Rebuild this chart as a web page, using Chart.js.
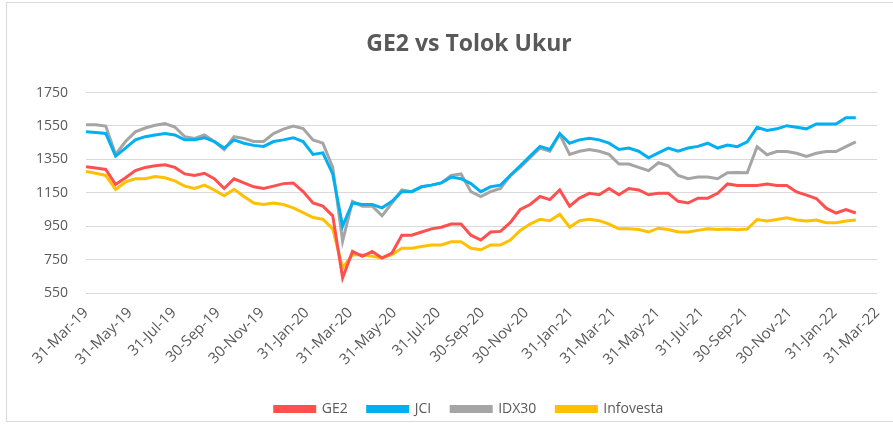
<!DOCTYPE html>
<html>
<head>
<meta charset="utf-8">
<script src="https://cdn.jsdelivr.net/npm/chart.js@4/dist/chart.umd.min.js"></script>
<style>
  html, body { margin:0; padding:0; background:#fff; overflow:hidden; }
  #wrap { position:relative; width:893px; height:429px; overflow:hidden; }
  #frame { position:absolute; left:6px; top:2px; width:1000px; height:418px; border:1px solid #d9d9d9; pointer-events:none; }
  canvas { display:block; }
</style>
</head>
<body>
<div id="wrap"><canvas id="chart"></canvas><div id="frame"></div></div>
<script>
// axis dates (every 2 months) and y ticks
const tickDates = ["2019-03-31","2019-05-31","2019-07-31","2019-09-30","2019-11-30","2020-01-31","2020-03-31",
  "2020-05-31","2020-07-31","2020-09-30","2020-11-30","2021-01-31","2021-03-31","2021-05-31","2021-07-31",
  "2021-09-30","2021-11-30","2022-01-31","2022-03-31"];
const yTicks = [550, 750, 950, 1150, 1350, 1550, 1750];

// readings roughly every two weeks from 31-Mar-19 (days between readings)
const STEP_DAYS = 13.67;

const ge2 = [1306,1298,1290,1200,1240,1283,1302,1312,1318,1302,1263,1254,1267,
  1234,1176,1234,1209,1186,1176,1190,1205,1209,1157,1089,1070,1012,
  640,799,770,799,760,789,896,896,915,934,944,963,963,
  896,867,915,919,973,1050,1080,1128,1109,1167,1070,1118,1147,
  1138,1176,1138,1176,1167,1138,1147,1147,1099,1089,1118,1118,1147,
  1203,1194,1194,1194,1203,1194,1194,1155,1136,1116,1058,1029,1049,1029];

const jci = [1515,1511,1505,1370,1418,1467,1486,1496,1505,1496,1467,1467,1480,
  1457,1418,1467,1447,1434,1428,1457,1467,1480,1457,1380,1389,1263,
  950,1089,1080,1080,1060,1099,1157,1157,1186,1196,1209,1244,1234,
  1205,1157,1186,1196,1254,1312,1370,1428,1409,1505,1447,1467,1476,
  1467,1447,1409,1418,1399,1360,1389,1418,1399,1418,1428,1447,1418,
  1436,1426,1455,1542,1523,1533,1552,1542,1533,1562,1562,1562,1600,1600];

const idx30 = [1558,1558,1550,1380,1457,1515,1538,1554,1564,1544,1486,1476,1496,
  1457,1409,1486,1476,1457,1457,1505,1531,1550,1535,1467,1447,1302,
  860,1099,1070,1070,1012,1089,1167,1157,1186,1196,1209,1254,1263,
  1157,1128,1157,1176,1254,1302,1360,1418,1399,1500,1380,1399,1409,
  1399,1380,1322,1322,1302,1283,1330,1312,1254,1234,1244,1244,1234,
  1270,1271,1270,1426,1378,1397,1397,1387,1368,1387,1397,1397,1426,1455];

const infovesta = [1277,1267,1254,1170,1215,1234,1234,1248,1240,1221,1190,1176,1196,
  1167,1132,1171,1128,1089,1080,1089,1080,1060,1031,1002,992,934,
  700,779,779,770,760,779,818,818,828,838,838,857,857,
  818,809,838,838,867,925,963,992,983,1021,944,983,992,
  983,963,934,934,930,915,938,930,915,915,925,934,930,
  933,929,933,990,981,990,1000,987,981,987,971,971,981,987];

const COLORS = {
  ge2: "#FF5050",
  jci: "#00B0F0",
  idx30: "#A5A5A5",
  infovesta: "#FFC000",
  text: "#595959",
  grid: "#D9D9D9"
};

const MON = ["Jan","Feb","Mar","Apr","May","Jun","Jul","Aug","Sep","Oct","Nov","Dec"];
const START = Date.parse("2019-03-31");
const dayOf = (s) => Math.round((Date.parse(s) - START) / 86400000);
const fmtDate = (s) => {
  const d = new Date(s);
  return `${d.getUTCDate()}-${MON[d.getUTCMonth()]}-${String(d.getUTCFullYear()).slice(2)}`;
};
const tickDays = tickDates.map(dayOf);
const tickText = {};
tickDates.forEach((s) => { tickText[dayOf(s)] = fmtDate(s); });

const pts = (arr) => arr.map((v, i) => ({ x: i * STEP_DAYS, y: v }));

const line = (label, data, color) => ({
  label, data: pts(data), borderColor: color, backgroundColor: color,
  borderWidth: 3, pointRadius: 0, tension: 0
});

// title and legend sit centred a bit right of the canvas middle in the original
const shiftBoxes = {
  id: "shiftBoxes",
  afterLayout(chart) {
    chart.titleBlock.left += 49;
    chart.legend.left += 49;
  }
};

Chart.defaults.font.family = "'Open Sans', sans-serif";
Chart.defaults.color = COLORS.text;

new Chart(document.getElementById("chart"), {
  type: "line",
  data: {
    datasets: [
      line("GE2", ge2, COLORS.ge2),
      line("JCI", jci, COLORS.jci),
      line("IDX30", idx30, COLORS.idx30),
      line("Infovesta", infovesta, COLORS.infovesta)
    ]
  },
  options: {
    responsive: true,
    maintainAspectRatio: false,
    animation: false,
    layout: { padding: { left: 0, right: 4, top: 25, bottom: 3 } },
    plugins: {
      title: {
        display: true, text: "GE2 vs Tolok Ukur", color: COLORS.text,
        font: { size: 23, weight: "bold" }, padding: { top: 6, bottom: 34 }
      },
      legend: {
        position: "bottom",
        labels: { boxWidth: 40, boxHeight: 5, padding: 20, color: COLORS.text, font: { size: 14 } }
      },
      tooltip: { enabled: false }
    },
    scales: {
      x: {
        type: "linear", min: 0, max: tickDays[tickDays.length - 1],
        grid: { display: false }, border: { display: false },
        afterBuildTicks: (s) => { s.ticks = tickDays.map((v) => ({ value: v })); },
        afterFit: (s) => { s.height = 89; },
        ticks: {
          autoSkip: false, minRotation: 45, maxRotation: 45, color: COLORS.text, font: { size: 15 },
          callback: (v) => tickText[v] || ""
        }
      },
      y: {
        min: 550, max: 1750,
        grid: { color: COLORS.grid, lineWidth: 1, drawTicks: false }, border: { display: false },
        afterBuildTicks: (s) => { s.ticks = yTicks.map((v) => ({ value: v })); },
        afterFit: (s) => { s.width = 86; },
        ticks: { color: COLORS.text, font: { size: 14 }, padding: 18, callback: (v) => String(v) }
      }
    }
  },
  plugins: [shiftBoxes]
});
</script>
</body>
</html>
